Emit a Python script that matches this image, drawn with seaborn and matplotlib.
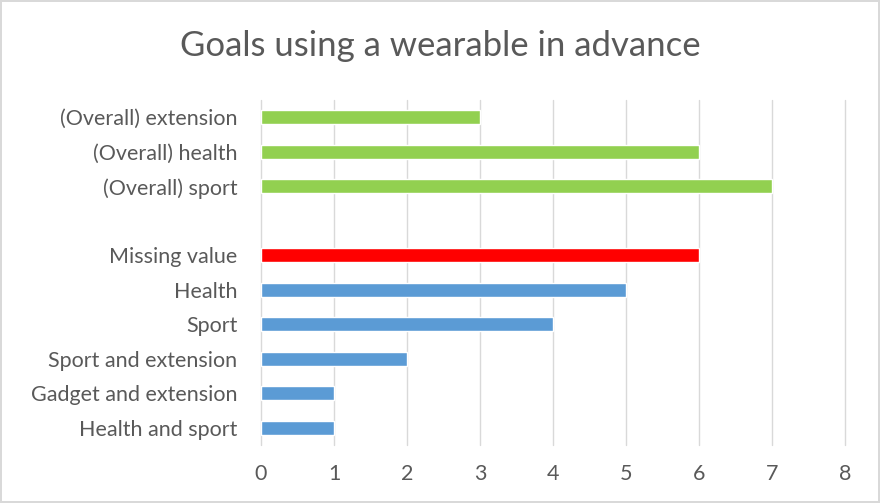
import pandas as pd
import seaborn as sns
import matplotlib.pyplot as plt

# Data
categories = ['(Overall) extension', '(Overall) health', '(Overall) sport', ' ',
              'Missing value', 'Health', 'Sport', 'Sport and extension',
              'Gadget and extension', 'Health and sport']
counts = [3, 6, 7, None, 6, 5, 4, 2, 1, 1]
groups = ['overall', 'overall', 'overall', 'overall',
          'missing', 'goal', 'goal', 'goal', 'goal', 'goal']

data = pd.DataFrame({'goal': categories, 'count': counts, 'group': groups})
data = data.dropna()

colors = {'overall': '#92D050', 'missing': '#FF0000', 'goal': '#5B9BD5'}

sns.set_style('white')
plt.rcParams['font.family'] = ['Lato', 'DejaVu Sans']

fig = plt.figure(figsize=(8.8, 5.03), dpi=100)
fig.patch.set_edgecolor('#D9D9D9')
fig.patch.set_linewidth(1.5)
ax = fig.add_axes([0.2966, 0.1153, 0.6636, 0.6859])

sns.barplot(data=data, y='goal', x='count', hue='group', order=categories,
            palette=colors, width=0.4, dodge=False, legend=False, ax=ax,
            saturation=1)

ax.set_xlim(0, 8)
ax.set_ylim(9.5, -0.5)
ax.set_xticks(range(0, 9))
ax.grid(axis='x', color='#D9D9D9', linewidth=1)
for gl in ax.get_xgridlines():
    gl.set_clip_on(False)
ax.set_axisbelow(True)
for s in ax.spines.values():
    s.set_visible(False)
ax.tick_params(axis='x', length=0, pad=14, labelsize=15.5, labelcolor='#595959')
ax.tick_params(axis='y', length=0, pad=17, labelsize=15.5, labelcolor='#595959')
ax.set_xlabel('')
ax.set_ylabel('')

fig.suptitle('Goals using a wearable in advance', y=0.94, fontsize=25,
             color='#595959')

fig.savefig('out.png', dpi=100, edgecolor=fig.get_edgecolor())
